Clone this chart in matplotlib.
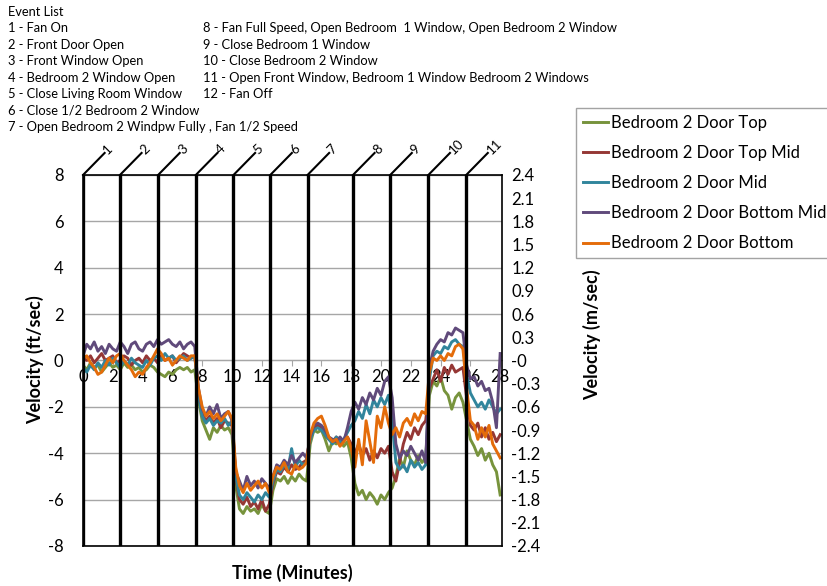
import numpy as np
import matplotlib.pyplot as plt

plt.rcParams['font.family'] = ['Lato', 'DejaVu Sans']
plt.rcParams['axes.unicode_minus'] = False

# series names and colours (legend order)
names = ['Bedroom 2 Door Top', 'Bedroom 2 Door Top Mid', 'Bedroom 2 Door Mid',
         'Bedroom 2 Door Bottom Mid', 'Bedroom 2 Door Bottom']
colors = ['#77933C', '#953735', '#31859C', '#604A7B', '#E46C0A']

# velocity (ft/sec), one value every 0.25 minutes from 0 to 28
door_top = [-0.2, -0.4, -0.1, -0.3, -0.2, -0.5, -0.3, -0.1, -0.3, -0.2, -0.4, -0.1, -0.3, -0.2, -0.4, -0.3,
            -0.5, -0.4, -0.2, -0.3, -0.5, -0.6, -0.7, -0.5, -0.6, -0.4, -0.3, -0.4, -0.3, -0.5, -0.4,
            -1.7,
            -2.6, -3.0, -3.4, -2.9, -3.1, -2.8, -3.0, -2.9, -3.2,
            -5.4,
            -6.4, -6.6, -6.3, -6.5, -6.4, -6.6, -6.2, -6.5, -6.6,
            -5.6, -5.1,
            -5.2, -5.0, -5.3, -5.0, -5.2, -4.9, -5.1, -5.2,
            -3.6, -3.0, -3.1,
            -3.0, -3.4, -3.9, -3.5, -3.6, -3.4, -3.7, -3.5, -4.2,
            -5.3, -5.8, -5.6, -6.0, -5.7, -5.9, -6.2, -5.8, -6.0, -5.7, -5.5,
            -5.0, -4.2, -4.6, -3.9, -4.3, -4.5, -4.1, -4.4, -4.2,
            -1.5,
            -0.9, -1.1, -0.7, -1.3, -1.5, -2.1, -1.6, -1.4, -1.8,
            -2.6, -3.4,
            -3.7, -4.1, -3.8, -4.3, -4.0, -4.5, -4.8, -5.8]
door_top_mid = [0.1, 0.0, 0.2, -0.1, 0.1, 0.3, 0.0, 0.1, 0.2, -0.1, 0.0, 0.2, 0.1, -0.2, 0.0, 0.1,
                -0.1, 0.2, 0.0, 0.1, -0.1, 0.2, 0.0, 0.1, 0.2, -0.1, 0.1, 0.3, 0.2, 0.1, 0.2,
                -1.4,
                -2.3, -2.6, -2.4, -2.7, -2.5, -2.9, -2.6, -2.7, -2.8,
                -5.0,
                -6.0, -6.2, -5.9, -6.3, -6.1, -6.4, -6.0, -6.5, -6.2,
                -5.3, -4.8,
                -4.9, -4.6, -4.8, -4.5, -4.7, -4.6, -4.4, -4.3,
                -3.3, -2.9, -2.8,
                -2.9, -3.2, -3.4, -3.5, -3.3, -3.6, -3.4, -3.3, -3.6,
                -4.0, -3.6, -4.1, -3.8, -4.3, -3.9, -4.2, -3.8, -4.0, -3.7, -4.8,
                -5.2, -4.4, -3.6, -3.1, -3.4, -2.9, -3.2, -2.8, -2.6,
                -1.2,
                -0.8, -0.4, -0.9, -0.3, -0.6, -0.2, -0.5, -0.4, -0.3,
                -1.6, -2.8,
                -3.0, -2.7, -3.3, -2.9, -3.4, -3.1, -3.5, -3.2]
door_mid = [-0.3, -0.5, -0.2, -0.4, -0.1, -0.3, 0.0, -0.2, 0.1, -0.1, -0.3, 0.0, -0.2, 0.1, -0.1, -0.2,
            -0.3, 0.0, -0.2, 0.1, 0.2, 0.0, 0.3, 0.1, 0.2, 0.0, 0.1, 0.2, 0.0, 0.1, 0.2,
            -1.5,
            -2.4, -2.7, -2.5, -2.8, -2.6, -2.7, -2.5, -2.8, -2.6,
            -5.0,
            -5.8, -6.0, -5.7, -5.9, -6.1, -5.8, -6.0, -5.7, -5.9,
            -5.2, -4.7,
            -4.8, -4.5, -4.7, -3.8, -4.6, -4.3, -4.5, -4.4,
            -3.4, -3.0, -2.9,
            -3.0, -3.2, -3.4, -3.6, -3.3, -3.5, -3.4, -3.1, -2.8,
            -2.6, -2.2, -2.5, -1.9, -2.3, -1.7, -2.0, -1.6, -1.9, -1.5, -2.6,
            -4.4, -4.7, -4.5, -4.8, -4.3, -4.6, -4.4, -4.7, -4.5,
            -0.8,
            0.2, 0.4, 0.3, 0.6, 0.5, 0.8, 0.9, 0.7, 0.6,
            -0.6, -1.4,
            -1.7, -2.0, -1.8, -2.1, -1.7, -2.0, -2.3, -2.1]
door_bottom_mid = [0.2, 0.7, 0.5, 0.8, 0.4, 0.6, 0.3, 0.7, 0.5, 0.4, 0.8, 0.6, 0.3, 0.7, 0.8, 0.5,
                   0.4, 0.7, 0.8, 0.6, 0.9, 0.7, 0.8, 0.9, 0.7, 0.6, 0.8, 0.5, 0.7, 0.8, 0.6,
                   -1.2,
                   -2.1, -2.4, -2.0, -2.3, -1.9, -2.5, -2.3, -2.2, -2.6,
                   -4.8,
                   -5.2, -5.6, -5.0, -5.4, -5.2, -5.5, -5.1, -5.3, -5.5,
                   -5.0, -4.5,
                   -4.6, -4.3, -4.5, -4.1, -4.4, -4.2, -4.0, -4.2,
                   -3.3, -2.8, -2.7,
                   -2.8, -3.0, -3.3, -3.4, -3.5, -3.3, -3.5, -2.9, -2.2,
                   -1.8, -2.1, -1.6, -1.9, -1.4, -1.7, -1.2, -1.5, -0.9, -0.7, -1.6,
                   -3.6, -4.2, -3.9, -4.1, -3.7, -4.0, -4.3, -3.9, -4.4,
                   -0.3,
                   0.4, 0.7, 0.9, 0.8, 1.2, 1.1, 1.4, 1.3, 1.2,
                   -0.2, -0.8,
                   -0.7, -1.1, -0.9, -1.3, -1.2, -1.8, -2.9, 0.3]
door_bottom = [0.1, 0.2, -0.1, -0.3, -0.6, -0.5, -0.2, 0.1, -0.1, 0.2, 0.3, 0.0, -0.2, -0.4, -0.7, -0.5,
               -0.6, -0.3, -0.1, 0.2, 0.5, 0.3, 0.0, 0.1, -0.2, 0.0, 0.2, 0.1, 0.0, 0.2, 0.2,
               -1.2,
               -2.0, -2.4, -2.2, -2.5, -2.3, -2.6, -2.4, -2.2, -2.5,
               -4.6,
               -5.4, -5.7, -5.3, -5.6, -5.4, -5.2, -5.5, -5.3, -5.7,
               -5.0, -4.6,
               -4.7, -4.4, -4.8, -4.9, -4.5, -4.7, -4.6, -4.4,
               -3.2, -2.7, -2.5,
               -2.4, -2.8, -3.3, -3.5, -3.4, -3.7, -3.5, -3.3, -3.8,
               -4.6, -3.4, -4.5, -2.6, -3.5, -4.4, -2.4, -2.9, -2.0, -2.7, -3.2,
               -2.9, -3.3, -2.7, -2.5, -2.8, -2.3, -2.6, -2.2, -2.3,
               -0.5,
               0.1, 0.0, 0.2, 0.0, 0.3, 0.2, 0.6, 0.7, 0.5,
               -1.2, -2.6,
               -2.8, -3.4, -2.9, -3.3, -2.8, -3.6, -3.9, -4.2]

series = [door_top, door_top_mid, door_mid, door_bottom_mid, door_bottom]
t = np.arange(len(door_top)) * 0.25

# event times (minutes)
event_times = [0, 2.48, 5.04, 7.57, 10.1, 12.57, 15.07, 18.12, 20.62, 23.18, 25.72]

event_list = ['1 - Fan On', '2 - Front Door Open', '3 - Front Window Open',
              '4 - Bedroom 2 Window Open', '5 - Close Living Room Window',
              '6 - Close 1/2 Bedroom 2 Window',
              '7 - Open Bedroom 2 Windpw Fully , Fan 1/2 Speed']
event_list2 = ['8 - Fan Full Speed, Open Bedroom  1 Window, Open Bedroom 2 Window',
               '9 - Close Bedroom 1 Window', '10 - Close Bedroom 2 Window',
               '11 - Open Front Window, Bedroom 1 Window Bedroom 2 Windows',
               '12 - Fan Off']

fig = plt.figure(figsize=(8.27, 5.86), dpi=100)
ax = fig.add_axes([0.1004, 0.0683, 0.5062, 0.6331])
ax2 = ax.twinx()

lines = []
for name, vals, c in zip(names, series, colors):
    ln, = ax.plot(t, vals, color=c, lw=2.1, label=name, zorder=3)
    lines.append(ln)

ax.set_xlim(0, 28.1)
ax.set_ylim(-8, 8)
ax.set_yticks(range(-8, 9, 2))
ax.set_xticks(range(0, 29, 2))
ax.grid(axis='y', color='#a6a6a6', lw=1)
ax.spines['bottom'].set_position(('data', 0))
ax.spines['bottom'].set_color('#a6a6a6')
for s in ['top', 'right', 'left']:
    ax.spines[s].set_visible(False)
ax.tick_params(axis='y', length=0, pad=14, labelsize=12)
ax.tick_params(axis='x', direction='out', length=4, color='#a6a6a6', pad=2, labelsize=12)

ax2.set_ylim(-2.4, 2.4)
rticks = np.round(np.arange(-2.4, 2.41, 0.3), 1)
ax2.set_yticks(rticks)
ax2.set_yticklabels(['%g' % v for v in rticks])
ax2.tick_params(axis='y', length=0, pad=7, labelsize=12)
for s in ax2.spines.values():
    s.set_color('black')
    s.set_linewidth(1.2)

# event lines with slanted number tags on top
for n, e in enumerate(event_times, start=1):
    ax.axvline(e, color='black', lw=2.4, zorder=5)
    ax.plot([e, e + 1.45], [8, 8.95], color='black', lw=1.5, clip_on=False, zorder=5)
    ax.text(e + 1.5, 9.0, str(n), rotation=45, rotation_mode='anchor',
            ha='left', va='center', fontsize=9.5, clip_on=False)

fig.text(35 / 827, 1 - 360 / 586, 'Velocity (ft/sec)', rotation=90, ha='center', va='center',
         fontsize=13, fontweight='bold')
fig.text(592 / 827, 1 - 335 / 586, 'Velocity (m/sec)', rotation=90, ha='center', va='center',
         fontsize=13, fontweight='bold')
fig.text(292 / 827, 1 - 573 / 586, 'Time (Minutes)', ha='center', va='center',
         fontsize=13, fontweight='bold')

fig.text(8 / 827, 1 - 12 / 586, 'Event List', va='center', fontsize=9.3)
for i, s in enumerate(event_list):
    fig.text(8 / 827, 1 - (28.5 + 16.4 * i) / 586, s, va='center', fontsize=9.3)
for i, s in enumerate(event_list2):
    fig.text(203 / 827, 1 - (28.5 + 16.4 * i) / 586, s, va='center', fontsize=9.3)

fig.legend(lines, names, loc='upper left', bbox_to_anchor=(576 / 827, 1 - 108 / 586),
           fontsize=12, frameon=True, fancybox=False, edgecolor='#8c8c8c',
           handlelength=1.5, handletextpad=0.2, labelspacing=0.85, borderpad=0.4,
           borderaxespad=0)

fig.savefig('out.png', dpi=100)
